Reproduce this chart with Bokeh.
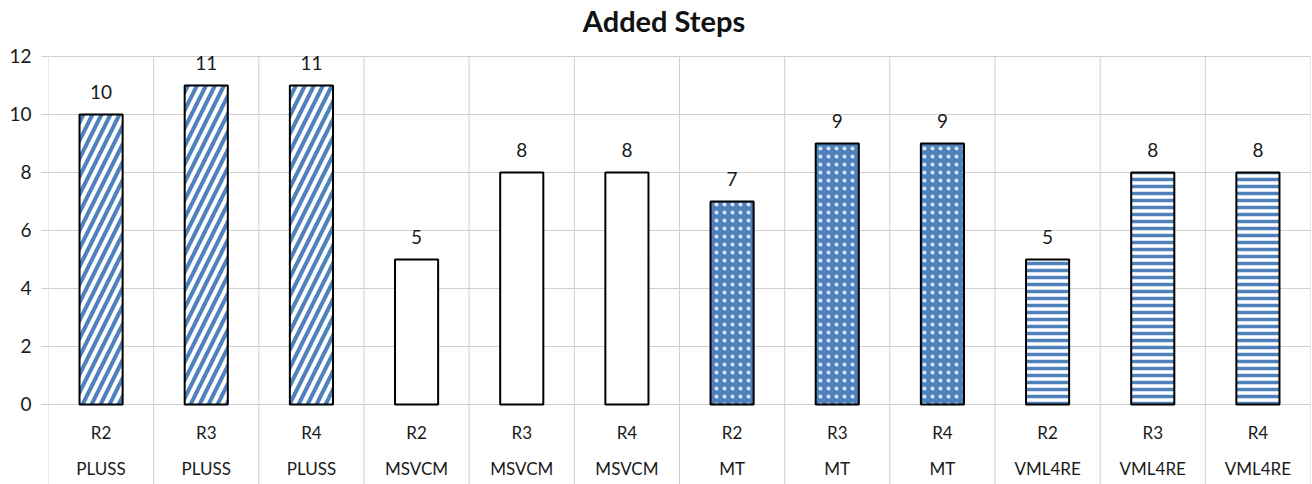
from bokeh.plotting import figure
from bokeh.models import ColumnDataSource, FixedTicker
from bokeh.core.properties import value
from bokeh.embed import file_html
from bokeh.resources import INLINE

# Added steps per release for each approach
groups = ["PLUSS", "PLUSS", "PLUSS", "MSVCM", "MSVCM", "MSVCM",
          "MT", "MT", "MT", "VML4RE", "VML4RE", "VML4RE"]
releases = ["R2", "R3", "R4"] * 4
steps = [10, 11, 11, 5, 8, 8, 7, 9, 9, 5, 8, 8]
y_ticks = [0, 2, 4, 6, 8, 10, 12]
title = "Added Steps"

BLUE = "#4f81bd"
FONT = "Lato"
TEXT = "#1a1a1a"
GRID = "#d0d0d0"

n = len(steps)
xc = [i + 0.5 for i in range(n)]
y_top = y_ticks[-1]
y_min, y_max = -2.76, 13.93

# per-group fill styling
style = {
    "PLUSS": dict(fill_color="white", hatch_pattern="/", hatch_color=BLUE, hatch_weight=4, hatch_scale=18),
    "MSVCM": dict(fill_color="white"),
    "MT": dict(fill_color=BLUE, hatch_pattern=".", hatch_color="white", hatch_alpha=0.8,
               hatch_scale=8, hatch_weight=1),
    "VML4RE": dict(fill_color="white", hatch_pattern="-", hatch_color=BLUE, hatch_weight=3.5, hatch_scale=7),
}

p = figure(width=1312, height=484, output_backend="svg", toolbar_location=None,
           x_range=(0, n), y_range=(y_min, y_max),
           min_border_left=48, min_border_right=2, min_border_top=0, min_border_bottom=0)
p.outline_line_color = None
p.background_fill_color = "white"
p.border_fill_color = "white"

p.xaxis.visible = False
p.xgrid.visible = False
p.ygrid.ticker = FixedTicker(ticks=y_ticks)
p.ygrid.grid_line_color = GRID

p.yaxis.ticker = FixedTicker(ticks=y_ticks)
p.yaxis.axis_line_color = None
p.yaxis.major_tick_line_color = GRID
p.yaxis.major_tick_out = 7
p.yaxis.major_tick_in = 0
p.yaxis.minor_tick_line_color = None
p.yaxis.major_label_text_font = FONT
p.yaxis.major_label_text_font_size = "19px"
p.yaxis.major_label_text_color = TEXT
p.yaxis.major_label_standoff = 10

# category separators running through the label rows
bounds = list(range(n + 1))
p.segment(x0=bounds, x1=bounds, y0=[y_min] * len(bounds), y1=[y_top] * len(bounds),
          line_color=GRID, line_width=1)

for g in ["PLUSS", "MSVCM", "MT", "VML4RE"]:
    idx = [i for i in range(n) if groups[i] == g]
    src = ColumnDataSource(dict(x=[xc[i] for i in idx], top=[steps[i] for i in idx]))
    p.vbar(x="x", top="top", bottom=0, width=0.41, source=src,
           line_color="black", line_width=2, **style[g])

# value labels above bars
p.text(x=xc, y=steps, text=[str(v) for v in steps], text_align="center",
       text_baseline="bottom", y_offset=-15, text_font=value(FONT),
       text_font_size="19px", text_color=TEXT)

# two-row category labels under the baseline
p.text(x=xc, y=[-0.97] * n, text=releases, text_align="center", text_baseline="middle",
       text_font=value(FONT), text_font_size="17px", text_color=TEXT)
p.text(x=xc, y=[-2.21] * n, text=groups, text_align="center", text_baseline="middle",
       text_font=value(FONT), text_font_size="17px", text_color=TEXT)

# chart title
p.text(x=[5.853], y=[13.24], text=[title], text_align="center", text_baseline="middle",
       text_font=value(FONT), text_font_size="29px", text_font_style="bold",
       text_color="#111111")

open("out.html", "w").write(file_html(p, INLINE))
